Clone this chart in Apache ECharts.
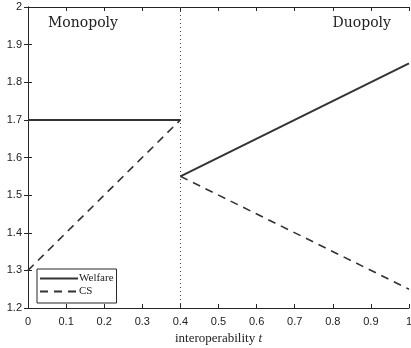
<!DOCTYPE html>
<html>
<head>
<meta charset="utf-8">
<script src="https://cdn.jsdelivr.net/npm/echarts@6/dist/echarts.min.js"></script>
<style>
  html, body { margin: 0; padding: 0; background: #fff; }
  #chart { width: 411px; height: 348px; }
</style>
</head>
<body>
<div id="chart"></div>
<script>
// interoperability t on each side of the 0.4 threshold
const monoT = [0, 0.4];
const duoT = [0.4, 1];
const welfareMono = [1.7, 1.7];
const welfareDuo = [1.55, 1.85];
const csMono = [1.3, 1.7];
const csDuo = [1.55, 1.25];
const threshold = 0.4;

const pairs = (xs, ys) => xs.map((x, i) => [x, ys[i]]);

const axisColor = "#262626";
const lineColor = "#333333";
const tickFont = "Liberation Sans";
const serif = "DejaVu Serif";

const chart = echarts.init(document.getElementById("chart"));

const hiddenAxis = (type, pos) => ({
  type: "value",
  position: pos,
  min: type === "x" ? 0 : 1.2,
  max: type === "x" ? 1 : 2,
  interval: 0.1,
  axisLine: { show: true, lineStyle: { color: axisColor, width: 1 } },
  axisTick: { show: true, inside: true, length: 4, lineStyle: { color: axisColor } },
  axisLabel: { show: false },
  splitLine: { show: false },
});

const option = {
  animation: false,
  backgroundColor: "#fff",
  grid: { left: 28, right: 2, top: 7, bottom: 40, outerBoundsMode: "none", containLabel: false },
  legend: {
    left: 37,
    top: 269,
    orient: "vertical",
    itemWidth: 38,
    itemHeight: 10,
    itemGap: 2,
    padding: [4, 3, 6, 2],
    borderColor: axisColor,
    borderWidth: 1,
    backgroundColor: "#fff",
    itemStyle: { opacity: 0 },
    textStyle: { fontFamily: "Liberation Serif", fontSize: 11, color: "#222", padding: [0, 0, 0, -4] },
    data: ["Welfare", "CS"],
  },
  xAxis: [
    {
      type: "value",
      min: 0,
      max: 1,
      interval: 0.1,
      name: "{n|interoperability }{t|t}",
      nameLocation: "middle",
      nameGap: 24,
      nameTextStyle: {
        rich: {
          n: { fontFamily: "Liberation Serif", fontSize: 13, color: "#222" },
          t: { fontFamily: "Liberation Serif", fontSize: 13, fontStyle: "italic", color: "#222" },
        },
      },
      axisLine: { lineStyle: { color: axisColor, width: 1 } },
      axisTick: { inside: true, length: 4, lineStyle: { color: axisColor } },
      axisLabel: {
        margin: 8,
        fontFamily: tickFont,
        fontSize: 11,
        color: "#222",
        formatter: (v) => String(Math.round(v * 10) / 10),
      },
      splitLine: { show: false },
    },
    hiddenAxis("x", "top"),
  ],
  yAxis: [
    {
      type: "value",
      min: 1.2,
      max: 2,
      interval: 0.1,
      axisLine: { show: true, lineStyle: { color: axisColor, width: 1 } },
      axisTick: { show: true, inside: true, length: 4, lineStyle: { color: axisColor } },
      axisLabel: {
        margin: 6,
        fontFamily: tickFont,
        fontSize: 11,
        color: "#222",
        formatter: (v) => String(Math.round(v * 10) / 10),
      },
      splitLine: { show: false },
    },
    hiddenAxis("y", "right"),
  ],
  series: [
    {
      name: "Welfare",
      type: "line",
      data: pairs(monoT, welfareMono),
      symbol: "none",
      lineStyle: { color: lineColor, width: 2 },
      itemStyle: { color: lineColor },
      markLine: {
        silent: true,
        symbol: "none",
        label: { show: false },
        lineStyle: { color: "#444", type: [1, 3], width: 1 },
        data: [{ xAxis: threshold }],
      },
    },
    {
      name: "Welfare",
      type: "line",
      data: pairs(duoT, welfareDuo),
      symbol: "none",
      lineStyle: { color: lineColor, width: 2 },
      itemStyle: { color: lineColor },
    },
    {
      name: "CS",
      type: "line",
      data: pairs(monoT, csMono),
      symbol: "none",
      lineStyle: { color: lineColor, width: 1.6, type: [8, 6] },
      itemStyle: { color: lineColor },
    },
    {
      name: "CS",
      type: "line",
      data: pairs(duoT, csDuo),
      symbol: "none",
      lineStyle: { color: lineColor, width: 1.6, type: [8, 6] },
      itemStyle: { color: lineColor },
    },
  ],
  graphic: [
    {
      type: "text",
      left: 48,
      top: 16,
      style: { text: "Monopoly", fontFamily: serif, fontSize: 14, fill: "#222" },
    },
    {
      type: "text",
      right: 20,
      top: 16,
      style: { text: "Duopoly", fontFamily: serif, fontSize: 14, fill: "#222" },
    },
  ],
};

chart.setOption(option);
</script>
</body>
</html>
